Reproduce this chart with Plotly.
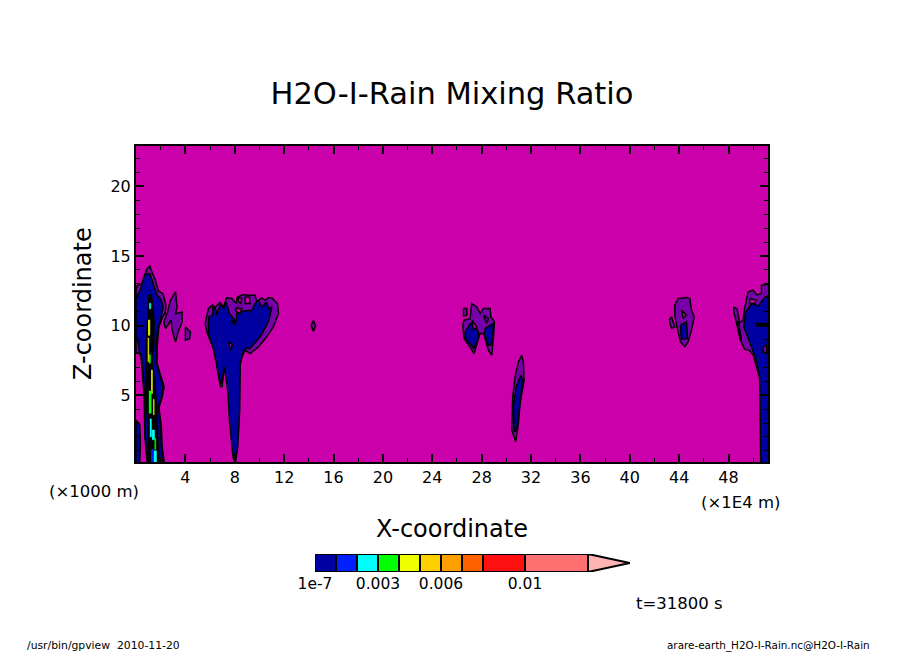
"""
H2O-I-Rain mixing ratio, x-z section at t=31800 s (gpview look)
Contour regions are outlines read off the picture, in axis units
"""
import plotly.graph_objects as go

# --- outlines of the contour regions: x in 1E4 m, z in 1000 m ---
# lowest shaded band (purple)
purple_regions = [
    ([0, 0.1, 0.46, 0.73, 0.87, 1.13, 1.35, 1.54, 1.81, 2.2, 2.43, 2.35, 2.2, 1.85, 1.72, 1.7, 2.0, 2.28, 2.1, 1.85, 2.05, 2.12, 2.3, 0.92, 0.72, 0.65, 0.4, 0.25, 0],
     [12.6, 12.87, 12.99, 13.59, 14.07, 14.26, 13.71, 13.35, 12.5, 12.27, 11.44, 10.84, 10.7, 9.9, 8.6, 7.3, 6.4, 5.6, 4.8, 4.1, 2.8, 1.3, 0.1, 0.1, 2.0, 5.1, 7.8, 8.0, 8.1]),
    ([3.2, 3.33, 3.2, 3.73, 3.73, 3.46, 3.2, 2.93, 2.84, 2.39, 2.25, 2.52, 2.79],
     [12.42, 11.34, 10.86, 10.98, 10.26, 9.67, 8.83, 9.67, 10.38, 9.79, 10.26, 10.86, 11.82]),
    ([4.0, 4.41, 4.35, 4.0], [9.9, 9.55, 9.05, 8.95]),
    ([5.6, 5.78, 5.87, 6.22, 6.27, 6.81, 7.08, 7.35, 7.76, 8.11, 8.22, 8.7, 9.11, 9.65, 9.78, 10.19, 10.46, 10.73, 11.0, 11.46, 11.54, 11.13, 10.59, 9.92, 9.24, 8.84, 8.57, 8.45, 8.1, 7.16, 6.97, 6.84, 6.57, 6.49, 6.27, 5.78],
     [10.15, 10.74, 11.22, 11.51, 11.22, 11.65, 11.34, 11.99, 11.94, 11.58, 12.06, 12.23, 12.18, 12.18, 11.7, 11.99, 11.82, 11.99, 11.99, 11.58, 10.86, 9.91, 9.19, 8.47, 7.99, 8.23, 7.75, 7.27, 7.0, 7.03, 5.6, 5.6, 7.0, 7.75, 8.35, 9.43]),
    ([14.18, 14.38, 14.55, 14.38], [10.0, 10.35, 10.0, 9.6]),
    ([26.47, 26.58, 27.07, 27.2, 27.61, 27.88, 28.15, 28.69, 28.74, 29.04, 28.96, 28.82, 28.55, 28.15, 27.88, 27.74, 27.39, 27.12, 26.58],
     [10.03, 10.39, 10.5, 11.58, 11.34, 10.87, 11.22, 11.22, 10.63, 10.27, 9.19, 7.87, 8.23, 9.43, 9.43, 9.07, 7.99, 8.35, 9.07]),
    ([26.53, 26.8, 26.8, 26.53], [11.22, 11.22, 10.75, 10.67]),
    ([31.25, 31.38, 31.44, 31.11, 30.98, 30.76, 30.44, 30.52, 30.71, 30.98],
     [7.87, 7.39, 6.08, 4.40, 2.97, 1.65, 2.49, 4.88, 6.32, 7.39]),
    ([43.65, 43.92, 44.6, 44.87, 45.0, 45.22, 45.0, 44.73, 44.46, 44.11, 43.79, 43.65],
     [11.47, 11.94, 12.02, 11.94, 11.11, 10.63, 9.67, 8.83, 8.47, 8.83, 10.03, 10.75]),
    ([43.2, 43.38, 43.65, 43.38], [10.39, 10.63, 9.91, 9.79]),
    ([48.43, 48.7, 48.9, 49.18, 49.3, 49.59, 49.99, 50.3, 50.67, 50.67, 51.3, 51.3, 50.5, 50.0, 49.7, 49.3, 49.0, 48.7, 48.43],
     [11.35, 11.2, 10.2, 10.4, 11.2, 12.42, 12.54, 12.2, 12.3, 12.9, 12.97, 0.1, 6.3, 7.9, 8.2, 8.3, 8.9, 9.9, 11.0]),
]

# first full band (navy)
navy_regions = [
    ([0, 0.33, 0.59, 0.73, 1.13, 1.35, 1.73, 2.0, 2.2, 2.1, 2.0, 1.75, 1.65, 1.65, 1.95, 2.2, 2.05, 1.8, 2.0, 2.05, 2.2, 0.95, 0.75, 0.7, 0.45, 0.3, 0.1, 0],
     [12.0, 12.5, 13.35, 13.71, 13.71, 13.11, 12.16, 11.9, 11.4, 10.9, 10.4, 9.7, 8.6, 7.3, 6.3, 5.6, 4.8, 4.1, 2.8, 1.3, 0.1, 0.1, 2.0, 5.1, 7.8, 8.1, 9.1, 9.2]),
    ([0, 0.3, 0.36, 0.3, 0], [3.2, 2.9, 1.5, 0.1, 0.1]),
    ([5.87, 6.22, 6.22, 6.49, 6.54, 6.86, 7.08, 7.3, 7.57, 7.89, 8.11, 8.22, 8.3, 8.57, 9.38, 9.65, 9.92, 10.19, 10.59, 10.73, 11.0, 10.81, 10.59, 10.05, 9.24, 8.84, 8.65, 8.45, 8.45, 8.4, 8.24, 8.05, 7.86, 7.59, 7.43, 7.16, 6.97, 6.84, 6.57, 6.27, 5.87],
     [10.62, 10.74, 11.46, 11.1, 10.74, 11.58, 11.22, 11.7, 10.86, 10.5, 10.27, 11.34, 11.22, 11.03, 11.1, 11.58, 11.82, 11.34, 11.7, 11.22, 11.34, 10.5, 10.03, 9.19, 8.35, 8.35, 7.99, 7.27, 5.36, 3.92, 1.29, 0.1, 0.57, 2.97, 5.36, 7.03, 6.0, 5.84, 7.03, 8.35, 9.43]),
    ([26.66, 27.07, 27.47, 27.74, 27.74, 27.34, 26.93, 26.66],
     [9.55, 10.15, 9.91, 9.55, 9.07, 8.35, 8.83, 9.19]),
    ([28.28, 28.96, 28.9, 28.74, 28.55, 28.23], [9.79, 10.15, 9.07, 8.59, 8.59, 9.43]),
    ([31.17, 31.33, 31.11, 30.84, 30.63, 30.57, 30.79], [6.44, 6.08, 4.40, 2.49, 2.37, 4.16, 5.6]),
    ([44.11, 44.6, 44.68, 44.19], [10.03, 10.27, 9.07, 9.0]),
    ([48.7, 48.8, 49.05, 48.95], [10.27, 10.27, 8.95, 9.0]),
    ([49.32, 49.9, 50.4, 50.9, 51.3, 51.3, 50.61, 50.53, 50.26, 49.86, 49.24],
     [10.87, 11.6, 11.4, 12.0, 12.18, 0.1, 0.1, 6.32, 7.52, 8.47, 9.91]),
]

# gaps of background colour inside the shaded regions
hole_regions = [
    ([8.3, 8.57, 8.49, 8.3], [12.06, 11.94, 11.58, 11.7]),
    ([8.84, 9.19, 9.24, 8.84], [12.06, 12.06, 11.58, 11.58]),
    ([8.03, 8.57, 8.43, 8.16], [11.22, 11.22, 10.86, 10.98]),
    ([7.89, 8.03, 7.76], [10.39, 10.07, 10.27]),
    ([7.49, 7.81, 7.68], [8.83, 8.64, 8.23]),
    ([27.2, 27.61, 27.34], [10.39, 9.91, 9.67]),
    ([44.19, 44.6, 44.33], [11.11, 10.75, 10.51]),
    ([49.72, 50.26, 50.13, 49.72], [11.94, 11.82, 11.58, 11.58]),
]

# purple pockets left inside the navy
pocket_regions = [
    ([50.8, 51.07, 51.12, 50.8], [8.47, 8.59, 8.0, 8.12]),
    ([28.15, 28.55, 28.42], [10.75, 10.5, 10.15]),
]

# dense contour lines packed into solid black
black_regions = [
    ([1.05, 1.25, 1.45, 1.45, 1.3, 1.55, 1.7, 1.75, 1.85, 1.85, 1.0, 0.95, 0.8, 0.8, 0.95],
     [12.2, 12.2, 10.5, 8.6, 7.5, 5.8, 3.7, 2.5, 1.2, 0.1, 0.1, 3.0, 5.1, 8.2, 10.4]),
    ([50.25, 51.17, 51.17, 50.25], [10.15, 10.15, 10.0, 10.0]),
]

# higher bands inside the core, as thin slivers
sliver_colors = ['#00ffff', '#f0ff00', '#f0ff00', '#00ff00', '#f0ff00', '#00ff00', '#f0ff00', '#00ffff', '#00ffff', '#00ff00', '#0020ff', '#00ffff']
sliver_x = [
    [1.07, 1.2, 1.2, 1.07], [0.98, 1.12, 1.12, 0.98], [0.95, 1.03, 1.03, 0.95], [1.06, 1.17, 1.17, 1.06],
    [1.23, 1.33, 1.33, 1.23], [1.04, 1.23, 1.23, 1.04], [1.4, 1.47, 1.47, 1.4], [1.12, 1.25, 1.25, 1.12],
    [1.3, 1.5, 1.5, 1.3], [1.5, 1.6, 1.6, 1.5], [1.22, 1.45, 1.45, 1.22], [1.45, 1.66, 1.66, 1.45],
]
sliver_z = [
    [11.6, 11.6, 11.2, 11.2], [10.4, 10.4, 9.3, 9.3], [9.1, 9.1, 7.4, 7.4], [7.9, 7.9, 7.3, 7.3],
    [6.8, 6.8, 5.1, 5.1], [5.3, 5.3, 3.7, 3.7], [4.7, 4.7, 3.6, 3.6], [3.3, 3.3, 2.0, 2.0],
    [2.5, 2.5, 1.8, 1.8], [1.9, 1.9, 1.1, 1.1], [1.1, 1.1, 0.1, 0.1], [1.0, 1.0, 0.1, 0.1],
]

# colour bar
bar_levels = [1e-7, 0.001, 0.002, 0.003, 0.004, 0.005, 0.006, 0.007, 0.008, 0.01, 0.013]
bar_colors = ['#0000a0', '#0020ff', '#00ffff', '#00ff00', '#f0ff00', '#ffd000', '#ffa000', '#ff6000', '#ff1010', '#ff7070']
bar_over = 0.015
bar_ticks = [1e-7, 0.003, 0.006, 0.01]
bar_ticktext = ['1e-7', '0.003', '0.006', '0.01']

x_ticks = list(range(4, 49, 4))
z_ticks = [5, 10, 15, 20]

W, H = 904, 654
FONT = 'DejaVu Sans'
BACKGROUND = '#cc00aa'

fig = go.Figure()


def add_regions(regions, color):
    for xs, zs in regions:
        fig.add_trace(go.Scatter(
            x=xs + xs[:1], y=zs + zs[:1], mode='lines', fill='toself', fillcolor=color,
            line=dict(color='black', width=1.5), hoverinfo='skip', showlegend=False,
        ))


add_regions(purple_regions, '#7800aa')
add_regions(navy_regions, '#0000a0')
add_regions(pocket_regions, '#7800aa')
add_regions(hole_regions, BACKGROUND)
add_regions(black_regions, 'black')

for _color, _xs, _zs in zip(sliver_colors, sliver_x, sliver_z):
    fig.add_trace(go.Scatter(
        x=_xs, y=_zs, mode='lines', fill='toself', fillcolor=_color,
        line=dict(color=_color, width=0.5), hoverinfo='skip', showlegend=False,
    ))

# colour bar cells on their own axes
for _lo, _hi, _color in zip(bar_levels[:-1], bar_levels[1:], bar_colors):
    fig.add_trace(go.Bar(
        x=[_hi - _lo], base=[_lo], y=[0.5], width=[1], orientation='h',
        marker=dict(color=_color, line=dict(color='black', width=2)),
        xaxis='x2', yaxis='y2', hoverinfo='skip', showlegend=False,
    ))
fig.add_trace(go.Scatter(
    x=[bar_levels[-1], bar_over, bar_levels[-1], bar_levels[-1]], y=[1, 0.5, 0, 1],
    mode='lines', fill='toself', fillcolor='#ffb4b4', line=dict(color='black', width=2),
    xaxis='x2', yaxis='y2', hoverinfo='skip', showlegend=False,
))

_axis = dict(
    automargin=False, showgrid=False, zeroline=False, showline=True, linecolor='black', linewidth=2,
    mirror='ticks', ticks='inside', tickcolor='black', tickwidth=2, ticklen=8,
    tickfont=dict(family=FONT, size=16, color='black'),
)

fig.update_layout(
    width=W, height=H, autosize=False,
    margin=dict(l=0, r=0, t=0, b=0),
    paper_bgcolor='white', plot_bgcolor='white',
    font=dict(family=FONT, color='black'),
    barmode='overlay',
    title=dict(text='H2O-I-Rain Mixing Ratio', x=452 / W, y=1 - 93 / H, xanchor='center', yanchor='middle',
               font=dict(family=FONT, size=30.5, color='black')),
    xaxis=dict(_axis, domain=[136 / W, 768 / W], range=[0, 51.2], tickvals=x_ticks,
               minor=dict(dtick=2, ticks='inside', ticklen=4, tickcolor='black', tickwidth=1, tick0=0)),
    yaxis=dict(_axis, domain=[1 - 462 / H, 1 - 146 / H], range=[0.2, 22.9], tickvals=z_ticks,
               minor=dict(dtick=1, ticks='inside', ticklen=4, tickcolor='black', tickwidth=1, tick0=0)),
    xaxis2=dict(automargin=False, domain=[315 / W, 630 / W], range=[0, bar_over], anchor='y2',
                tickvals=bar_ticks, ticktext=bar_ticktext,
                showgrid=False, zeroline=False, showline=False, ticks='',
                tickfont=dict(family=FONT, size=15.5, color='black')),
    yaxis2=dict(automargin=False, domain=[1 - 572 / H, 1 - 554 / H], range=[0, 1], anchor='x2', visible=False, fixedrange=True),
)

# field colour only behind the section, not behind the colour bar
fig.add_shape(type='rect', xref='x domain', yref='y domain', x0=0, x1=1, y0=0, y1=1,
              fillcolor=BACKGROUND, line_width=0, layer='below')

# free text, placed in pixel terms of the page
_labels = [
    ('(×1000 m)', 47, 491, 'left', 16.5, 0),
    ('(×1E4 m)', 782, 502, 'right', 16.5, 0),
    ('X-coordinate', 452, 529, 'center', 24, 0),
    ('Z-coordinate', 83, 304, 'center', 24, -90),
    ('t=31800 s', 634, 603, 'left', 16.5, 0),
    ('/usr/bin/gpview  2010-11-20', 25, 645, 'left', 10.8, 0),
    ('arare-earth_H2O-I-Rain.nc@H2O-I-Rain', 872, 645, 'right', 10.4, 0),
]
for _text, _px, _py, _align, _size, _angle in _labels:
    fig.add_annotation(
        text=_text, xref='paper', yref='paper', x=_px / W, y=1 - _py / H, showarrow=False,
        xanchor=_align, yanchor='middle', textangle=_angle,
        font=dict(family=FONT, size=_size, color='black'),
    )

fig.write_html("out.html", post_script="document.body.style.margin='0';",
               config=dict(displayModeBar=False))
